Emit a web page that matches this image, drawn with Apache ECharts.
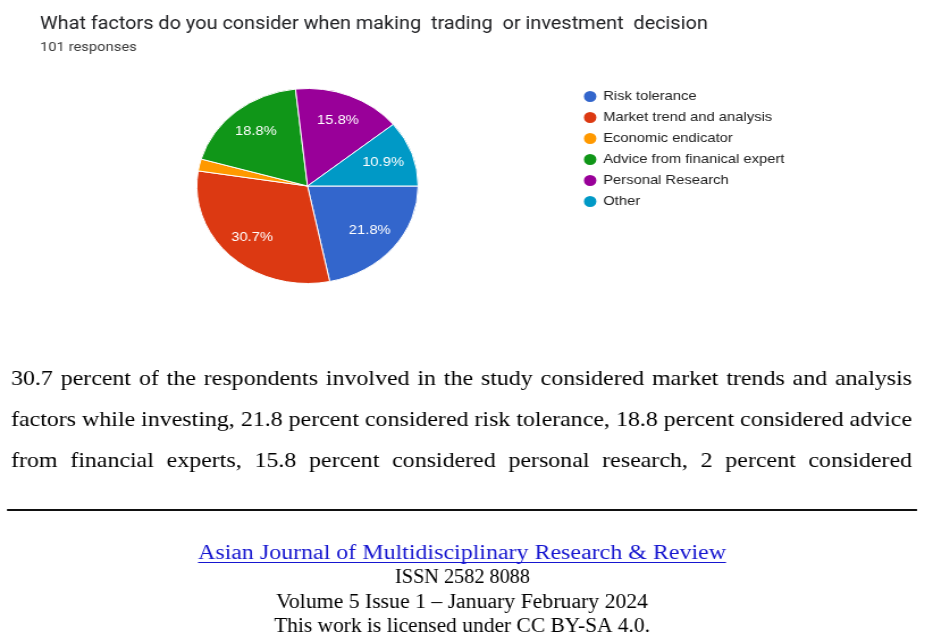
<!DOCTYPE html>
<html>
<head>
<meta charset="utf-8">
<script src="https://cdn.jsdelivr.net/npm/echarts@6/dist/echarts.min.js"></script>
<style>
html,body{margin:0;padding:0;background:#fff;overflow:hidden;}
#main{height:644px;transform-origin:0 0;}
</style>
</head>
<body>
<div id="main"></div>
<script>
// ---- data ----
const chartTitle = 'What factors do you consider when making  trading  or investment  decision';
const chartSubtitle = '101 responses';
const categories = ['Risk tolerance', 'Market trend and analysis', 'Economic endicator', 'Advice from finanical expert', 'Personal Research', 'Other'];
const counts = [22, 31, 2, 19, 16, 11];
const colors = ['#3366cc', '#dc3912', '#ff9900', '#109618', '#990099', '#0099c6'];
const paragraphLines = [
  '30.7 percent of the respondents involved in the study considered market trends and analysis',
  'factors while investing, 21.8 percent considered risk tolerance, 18.8 percent considered advice',
  'from financial experts, 15.8 percent considered personal research, 2 percent considered'
];
const footerLines = [
  'Asian Journal of Multidisciplinary Research & Review',
  'ISSN 2582 8088',
  'Volume 5 Issue 1 – January February 2024',
  'This work is licensed under CC BY-SA 4.0.'
];

// ---- layout ----
// the reference page is stretched horizontally; reproduce with a horizontal scale
const K = 1.135;
const el = document.getElementById('main');
el.style.width = (940 / K) + 'px';
el.style.transform = 'scaleX(' + K + ')';
const X = v => v / K; // screen x -> chart x

const total = counts.reduce((a, b) => a + b, 0);
const pieData = categories.map((c, i) => ({ name: c, value: counts[i], itemStyle: { color: colors[i] } }));
const labelData = categories.map((c, i) => ({ name: c, value: counts[i] }));

const mctx = document.createElement('canvas').getContext('2d');
function measure(t, font) { mctx.font = font; return mctx.measureText(t).width; }

const graphics = [];
// paragraph, justified
const paraFont = '22px "Liberation Serif"';
const paraLeft = 11, paraRight = 912, paraWidth = paraRight - paraLeft;
const paraY = [379.5, 420.5, 461.5];
const nat2 = measure(paragraphLines[1], paraFont);
const sx = paraWidth / nat2; // screen-space glyph scale
paragraphLines.forEach((line, li) => {
  const words = line.split(' ');
  const ws = words.map(w => measure(w, paraFont) * sx);
  const W = ws.reduce((a, b) => a + b, 0);
  const gap = (paraWidth - W) / (words.length - 1);
  let x = paraLeft;
  words.forEach((w, wi) => {
    graphics.push({ type: 'text', x: X(x), y: paraY[li], scaleX: sx / K, silent: true,
      style: { text: w, font: paraFont, fill: '#000', textAlign: 'left', textVerticalAlign: 'middle' } });
    x += ws[wi] + gap;
  });
});
// rule
graphics.push({ type: 'rect', silent: true, shape: { x: X(7), y: 509, width: X(917) - X(7), height: 2 }, style: { fill: '#111' } });
// footer
const footFont = '20px "Liberation Serif"';
const footBox = [[198, 726, 554, '#1616d0'], [395, 530, 578, '#000'], [276, 648, 603, '#000'], [274, 650, 627, '#000']];
footerLines.forEach((t, i) => {
  const b = footBox[i];
  const s = (b[1] - b[0]) / measure(t, footFont);
  graphics.push({ type: 'text', x: X(b[0]), y: b[2], scaleX: s / K, silent: true,
    style: { text: t, font: footFont, fill: b[3], textAlign: 'left', textVerticalAlign: 'middle' } });
});
graphics.push({ type: 'rect', silent: true, shape: { x: X(198), y: 562, width: X(726) - X(198), height: 1 }, style: { fill: '#1616d0' } });

const chart = echarts.init(el, null, { renderer: 'canvas' });
chart.setOption({
  backgroundColor: '#fff',
  animation: false,
  title: {
    text: chartTitle, subtext: chartSubtitle, left: X(40), top: 15, padding: 0, itemGap: 5,
    textStyle: { fontFamily: 'Roboto', fontSize: 17.5, fontWeight: 'normal', color: '#202124', lineHeight: 20 },
    subtextStyle: { fontFamily: 'Roboto', fontSize: 13, color: '#3c3c3c', lineHeight: 16 }
  },
  legend: {
    orient: 'vertical', left: X(589) - 6.5, top: 89, padding: 0, icon: 'circle', itemWidth: 13, itemHeight: 13, itemGap: 6,
    data: categories,
    textStyle: { fontFamily: 'Liberation Sans', fontSize: 13, color: '#222', padding: [0, 0, 0, 0] }
  },
  series: [
    {
      type: 'pie', center: [X(307.5), 186], radius: [0, 97.5], startAngle: 0, clockwise: true,
      data: pieData, label: { show: false }, labelLine: { show: false },
      itemStyle: { borderColor: '#fff', borderWidth: 1 }
    },
    {
      type: 'pie', center: [X(307.5), 186], radius: [38, 97.5], startAngle: 0, clockwise: true, silent: true,
      data: labelData, itemStyle: { color: 'rgba(0,0,0,0)' },
      labelLine: { show: false },
      label: {
        show: true, position: 'inside', color: '#fff', fontFamily: 'Liberation Sans', fontSize: 13,
        formatter: p => (p.value / total * 100 < 5 ? '' : (p.value / total * 100).toFixed(1) + '%')
      }
    }
  ],
  graphic: graphics
});
</script>
</body>
</html>
